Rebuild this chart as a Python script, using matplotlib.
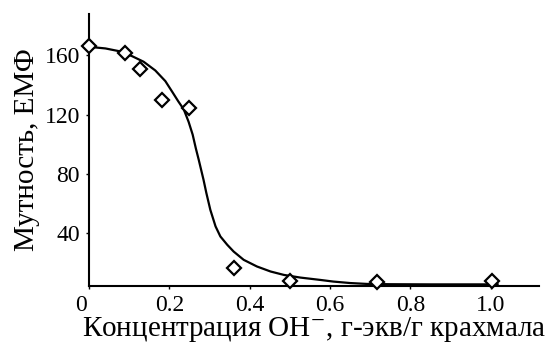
import matplotlib
matplotlib.use("Agg")
import matplotlib.pyplot as plt
from matplotlib.transforms import ScaledTranslation

# Measured points (concentration OH-, turbidity)
conc = [0.0, 0.09, 0.128, 0.182, 0.25, 0.36, 0.50, 0.716, 1.003]
turb = [166.3, 161.8, 151.0, 130.0, 124.3, 16.5, 7.5, 7.0, 7.7]

# Fitted curve
curve_x = [0.0, 0.041, 0.074, 0.107, 0.136, 0.165, 0.190, 0.208, 0.222, 0.236,
           0.248, 0.258, 0.266, 0.273, 0.285, 0.292, 0.302, 0.315, 0.327, 0.344,
           0.360, 0.385, 0.418, 0.452, 0.485, 0.526, 0.576, 0.608, 0.650, 0.692,
           0.75, 0.85, 1.017]
curve_y = [165.8, 164.7, 162.9, 159.5, 155.7, 149.8, 142.6, 135.0, 129.0, 123.4,
           115.0, 106.4, 97.0, 89.5, 75.9, 67.0, 55.5, 44.3, 37.5, 31.9,
           27.3, 21.7, 17.2, 13.8, 11.5, 9.7, 8.1, 7.0, 6.0, 5.4,
           5.2, 5.1, 5.1]

xticks = [0, 0.2, 0.4, 0.6, 0.8, 1.0]
xticklabels = ["0", "0.2", "0.4", "0.6", "0.8", "1.0"]
yticks = [40, 80, 120, 160]
yticklabels = ["40", "80", "120", "160"]

plt.rcParams['font.family'] = ['Liberation Serif', 'DejaVu Serif']
plt.rcParams['mathtext.fontset'] = 'stix'

fig = plt.figure(figsize=(5.48, 3.45), dpi=100)
ax = fig.add_axes([89/548, 1-286/345, (539-89)/548, (286-14)/345])

ax.plot(curve_x, curve_y, color='black', lw=1.6, solid_joinstyle='round')
ax.plot(conc, turb, linestyle='none', marker='D', markersize=7.5,
        markerfacecolor='white', markeredgecolor='black', markeredgewidth=1.6,
        clip_on=False, zorder=3)

ax.set_xlim(0, 1.12)
ax.set_ylim(4, 188)
ax.set_xticks(xticks)
ax.set_xticklabels(xticklabels)
ax.set_yticks(yticks)
ax.set_yticklabels(yticklabels)
ax.tick_params(direction='out', length=2.5, width=1, labelsize=17)
ax.tick_params(axis='x', pad=4)
ax.tick_params(axis='y', pad=4)
for s in ['top', 'right']:
    ax.spines[s].set_visible(False)
for s in ['left', 'bottom']:
    ax.spines[s].set_linewidth(1.5)

# "0" label sits a little left of its tick in the reference
lbl0 = ax.get_xticklabels()[0]
lbl0.set_transform(lbl0.get_transform() + ScaledTranslation(-8/100, 0, fig.dpi_scale_trans))

ax.set_xlabel("Концентрация OH$^{-}$, г-экв/г крахмала", fontsize=21, labelpad=-1)
ax.set_ylabel("Мутность, ЕМФ", fontsize=21, labelpad=3)

fig.savefig("out.png", dpi=100)
